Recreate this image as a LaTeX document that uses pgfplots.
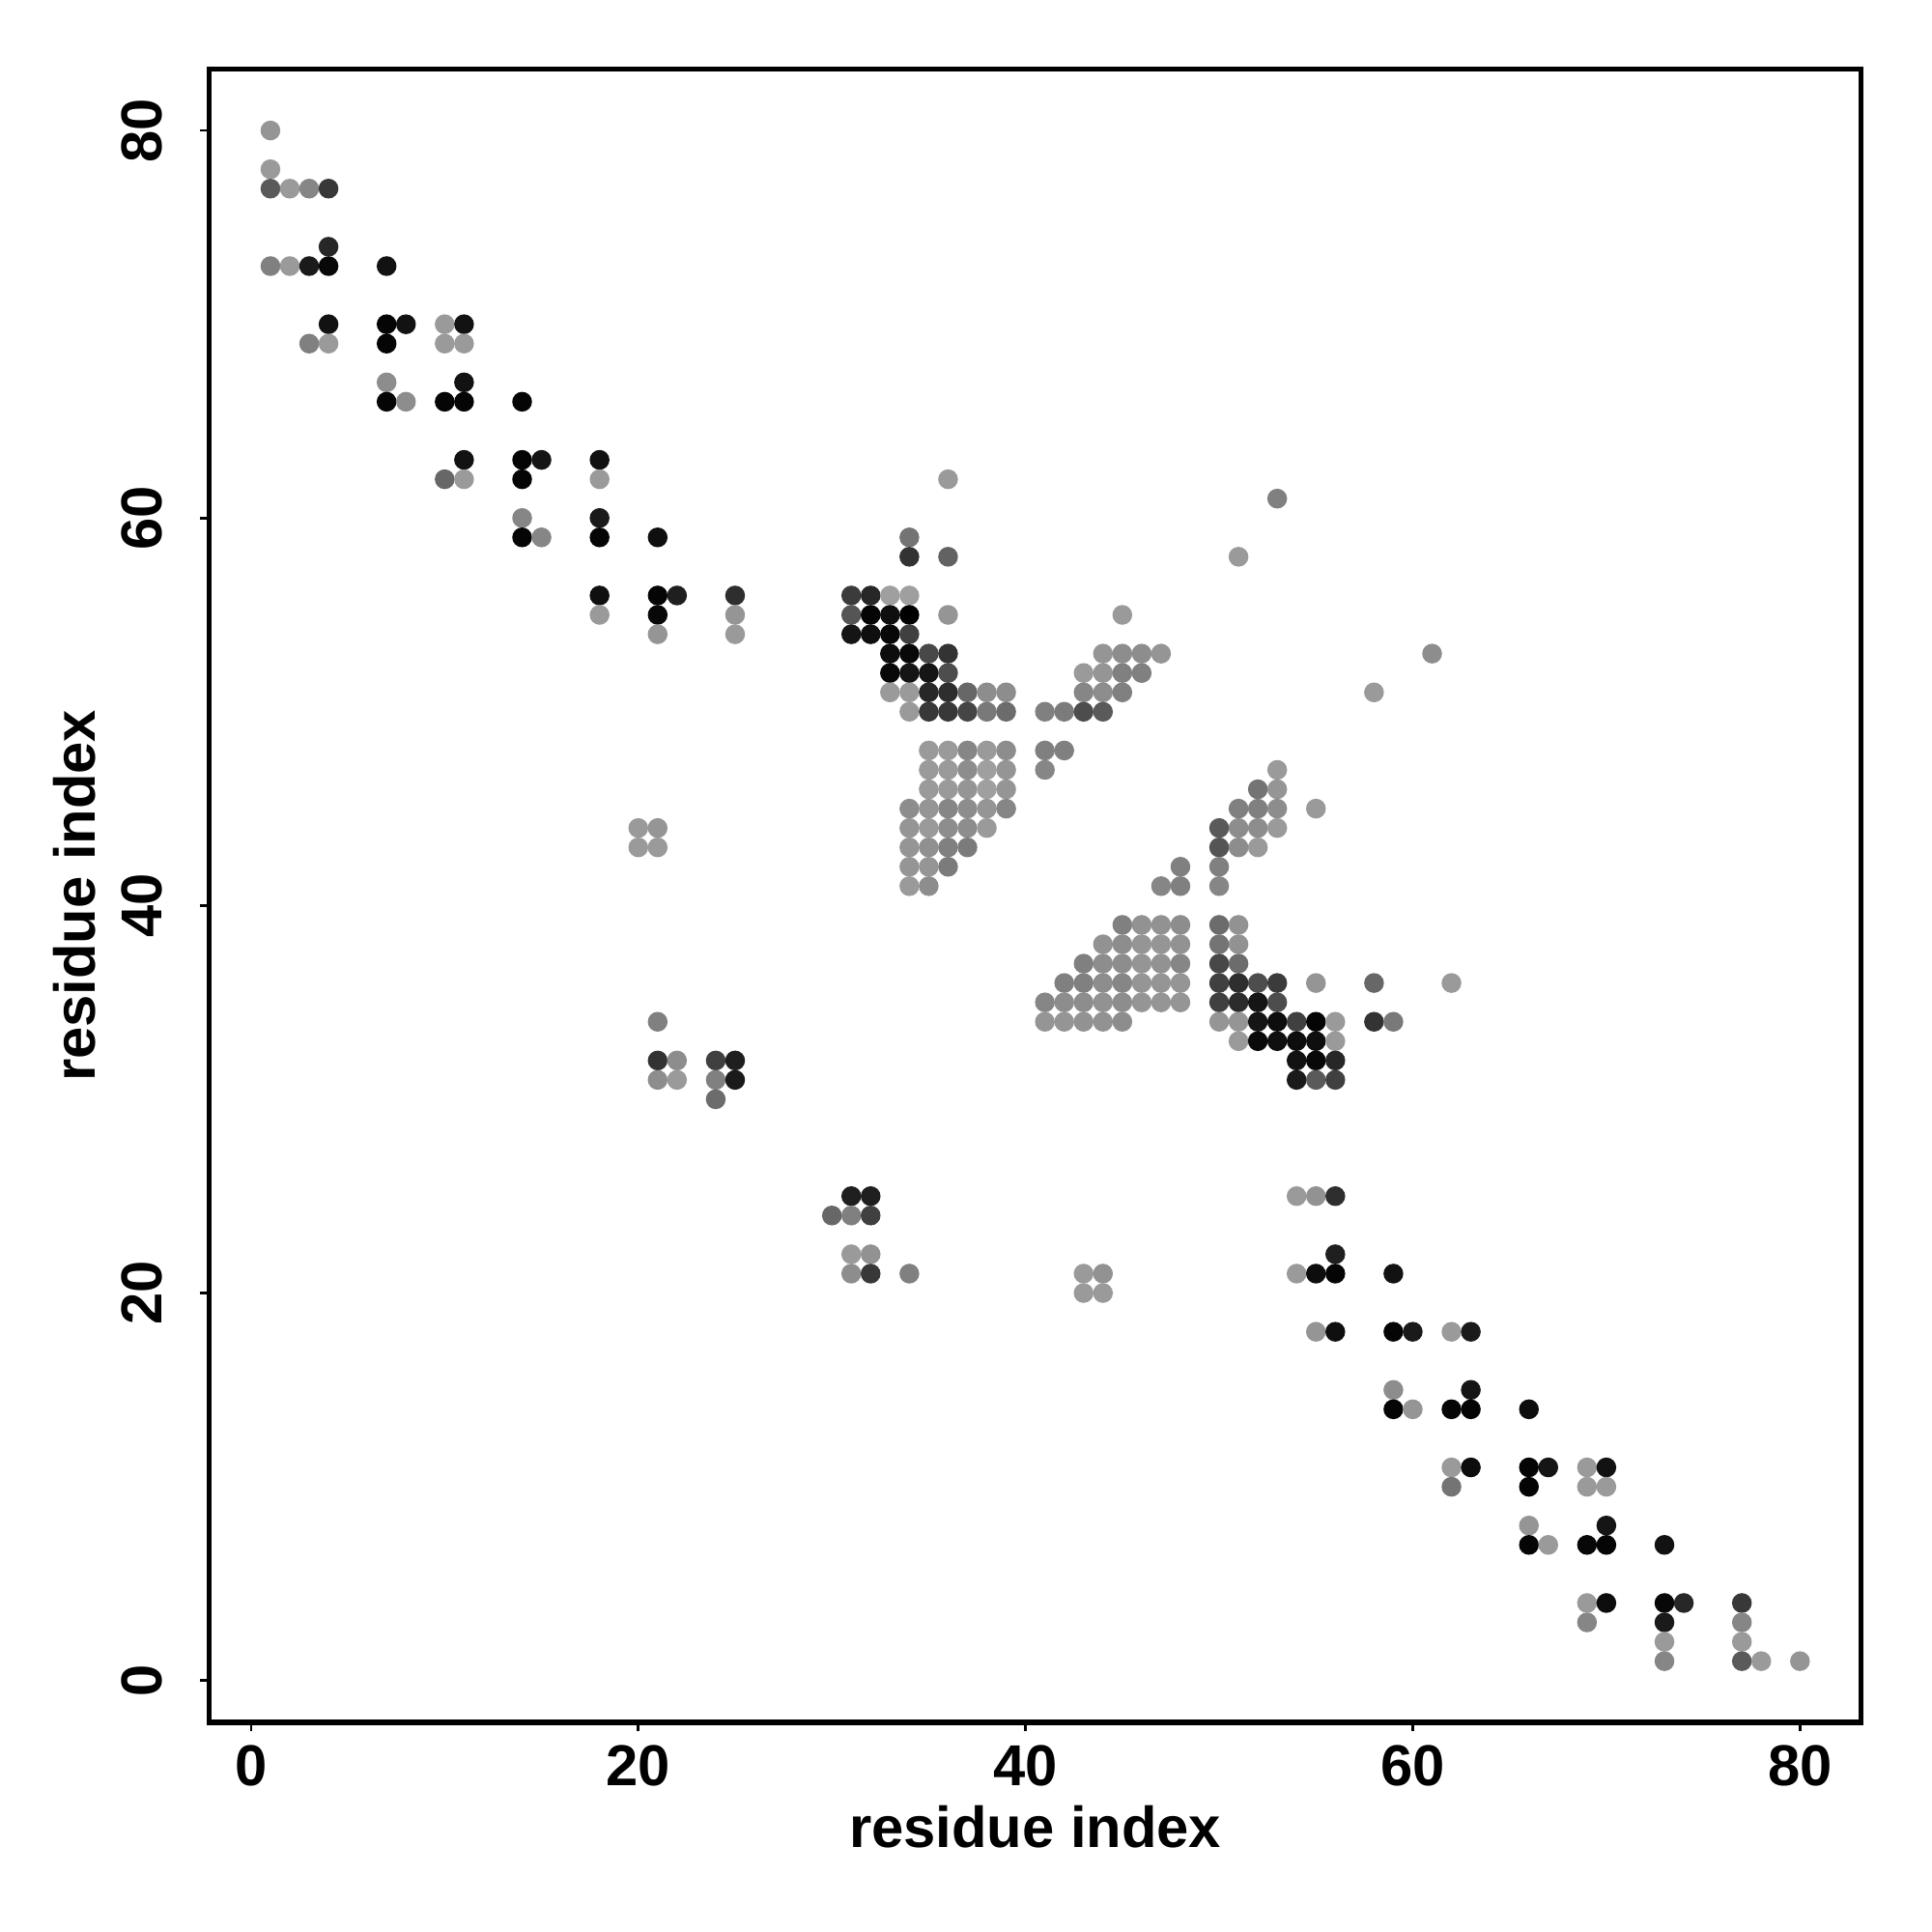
\documentclass[border=0pt]{standalone}
\usepackage{fontspec}
\setmainfont{Liberation Sans}
\usepackage{pgfplots}
\usepackage{pgfplotstable}
\pgfplotsset{compat=1.18}
\pgfplotstableread{
x y c
1 80 0.58
1 78 0.60
1 77 0.35
2 77 0.60
3 77 0.52
4 77 0.22
4 74 0.15
1 73 0.50
2 73 0.60
3 73 0.10
4 73 0.03
7 73 0.07
4 70 0.07
3 69 0.50
4 69 0.60
7 70 0.02
8 70 0.07
7 69 0.02
10 70 0.60
11 70 0.07
10 69 0.60
11 69 0.60
7 67 0.55
7 66 0.02
8 66 0.55
11 67 0.07
10 66 0.02
11 66 0.02
14 66 0.02
11 63 0.07
10 62 0.40
11 62 0.60
14 63 0.02
15 63 0.08
14 62 0.02
18 63 0.07
18 62 0.60
14 60 0.52
14 59 0.02
15 59 0.52
18 60 0.10
18 59 0.02
21 59 0.06
18 56 0.06
18 55 0.60
21 56 0.02
22 56 0.12
21 55 0.03
21 54 0.58
25 56 0.18
25 55 0.58
25 54 0.60
36 62 0.60
34 59 0.45
34 58 0.20
36 58 0.38
31 56 0.23
32 56 0.15
33 56 0.62
34 56 0.62
31 55 0.33
32 55 0.02
33 55 0.06
34 55 0.00
36 55 0.58
31 54 0.08
32 54 0.06
33 54 0.03
34 54 0.25
33 53 0.05
34 53 0.03
35 53 0.28
36 53 0.20
33 52 0.03
34 52 0.08
35 52 0.08
36 52 0.30
33 51 0.60
34 51 0.60
35 51 0.15
36 51 0.18
37 51 0.40
38 51 0.55
39 51 0.55
34 50 0.60
35 50 0.22
36 50 0.22
37 50 0.27
38 50 0.47
39 50 0.42
35 48 0.60
36 48 0.60
37 48 0.52
38 48 0.60
39 48 0.55
35 47 0.60
36 47 0.60
37 47 0.55
38 47 0.62
39 47 0.58
35 46 0.60
36 46 0.60
37 46 0.58
38 46 0.62
39 46 0.58
34 45 0.55
35 45 0.58
36 45 0.52
37 45 0.55
38 45 0.58
39 45 0.52
34 44 0.58
35 44 0.60
36 44 0.55
37 44 0.55
38 44 0.60
34 43 0.58
35 43 0.56
36 43 0.50
37 43 0.48
34 42 0.58
35 42 0.58
36 42 0.48
34 41 0.60
35 41 0.55
53 61 0.50
51 58 0.60
45 55 0.60
61 53 0.55
58 51 0.60
44 53 0.58
45 53 0.55
46 53 0.55
47 53 0.58
43 52 0.60
44 52 0.58
45 52 0.50
46 52 0.50
43 51 0.52
44 51 0.55
45 51 0.50
41 50 0.50
42 50 0.48
43 50 0.30
44 50 0.35
41 48 0.50
42 48 0.50
41 47 0.52
53 47 0.60
52 46 0.45
53 46 0.58
51 45 0.50
52 45 0.50
53 45 0.55
55 45 0.60
50 44 0.35
51 44 0.55
52 44 0.55
53 44 0.60
50 43 0.33
51 43 0.55
52 43 0.60
48 42 0.50
50 42 0.50
47 41 0.52
48 41 0.50
50 41 0.52
45 39 0.50
46 39 0.57
47 39 0.57
48 39 0.55
50 39 0.42
51 39 0.57
44 38 0.57
45 38 0.55
46 38 0.58
47 38 0.58
48 38 0.57
50 38 0.45
51 38 0.57
43 37 0.50
44 37 0.55
45 37 0.55
46 37 0.58
47 37 0.57
48 37 0.52
50 37 0.28
51 37 0.42
42 36 0.50
43 36 0.50
44 36 0.55
45 36 0.52
46 36 0.58
47 36 0.58
48 36 0.58
50 36 0.25
51 36 0.18
52 36 0.30
53 36 0.23
55 36 0.58
58 36 0.40
62 36 0.60
41 35 0.52
42 35 0.55
43 35 0.55
44 35 0.57
45 35 0.55
46 35 0.58
47 35 0.58
48 35 0.58
50 35 0.25
51 35 0.17
52 35 0.08
53 35 0.30
41 34 0.58
42 34 0.58
43 34 0.57
44 34 0.57
45 34 0.55
50 34 0.58
51 34 0.58
52 34 0.08
53 34 0.05
54 34 0.25
55 34 0.02
56 34 0.60
58 34 0.20
59 34 0.47
51 33 0.60
52 33 0.04
53 33 0.06
54 33 0.05
55 33 0.06
56 33 0.60
54 32 0.07
55 32 0.03
56 32 0.15
54 31 0.10
55 31 0.35
56 31 0.25
20 44 0.60
21 44 0.58
20 43 0.60
21 43 0.60
21 34 0.50
21 32 0.20
22 32 0.55
21 31 0.55
22 31 0.60
24 32 0.25
25 32 0.12
24 31 0.50
25 31 0.10
24 30 0.42
31 25 0.12
32 25 0.12
30 24 0.40
31 24 0.50
32 24 0.25
31 22 0.60
32 22 0.57
31 21 0.55
32 21 0.22
34 21 0.50
43 21 0.60
44 21 0.57
43 20 0.60
44 20 0.60
54 25 0.60
55 25 0.57
56 25 0.18
56 22 0.12
54 21 0.60
55 21 0.05
56 21 0.02
55 18 0.58
56 18 0.06
59 21 0.07
59 18 0.02
60 18 0.10
62 18 0.60
63 18 0.10
59 15 0.55
59 14 0.02
60 14 0.58
63 15 0.08
62 14 0.02
63 14 0.02
66 14 0.05
62 11 0.60
63 11 0.05
62 10 0.45
66 11 0.02
67 11 0.08
66 10 0.02
69 11 0.60
70 11 0.07
69 10 0.60
70 10 0.60
66 8 0.58
66 7 0.02
67 7 0.60
70 8 0.08
69 7 0.03
70 7 0.02
73 7 0.07
69 4 0.60
70 4 0.05
69 3 0.52
73 4 0.03
74 4 0.15
73 3 0.10
73 2 0.60
73 1 0.52
77 4 0.22
77 3 0.52
77 2 0.60
77 1 0.35
78 1 0.60
80 1 0.58
}\contacts
\begin{document}
\begin{tikzpicture}
\useasboundingbox (-1.733,-1.736) rectangle (14.267,14.264);
\begin{axis}[
  at={(0,0)}, anchor=south west,
  width=13.68cm, height=13.69cm, scale only axis,
  xmin=-2.16, xmax=83.16, ymin=-2.16, ymax=83.16,
  xtick={0,20,40,60,80}, ytick={0,20,40,60,80},
  tick align=outside, major tick length=0.075cm,
  every tick/.style={line width=0.6pt, black},
  xtick pos=bottom, ytick pos=left,
  axis line style={line width=1.15pt},
  /pgf/number format/assume math mode=true,
  tick label style={font=\fontsize{13.6}{16}\selectfont\bfseries, inner sep=0pt},
  xticklabel style={anchor=north},
  xticklabel shift=0.112cm,
  yticklabel style={rotate=90, anchor=south},
  yticklabel shift=0.31cm,
  label style={font=\fontsize{13.6}{16}\selectfont\bfseries},
  xlabel={residue index}, ylabel={residue index},
  xlabel style={at={(axis description cs:0.5,-0.0631)}, anchor=center, inner sep=0pt},
  ylabel style={at={(axis description cs:-0.0815,0.5)}, anchor=center, inner sep=0pt, rotate=0},
  colormap={gr}{gray(0cm)=(0); gray(1cm)=(1)},
  point meta min=0, point meta max=1,
]
\addplot[scatter, only marks, mark=*, mark size=2.13pt,
  scatter/use mapped color={draw=mapped color, fill=mapped color},
  point meta=explicit]
  table[x=x, y=y, meta=c] {\contacts};
\end{axis}
\end{tikzpicture}
\end{document}
